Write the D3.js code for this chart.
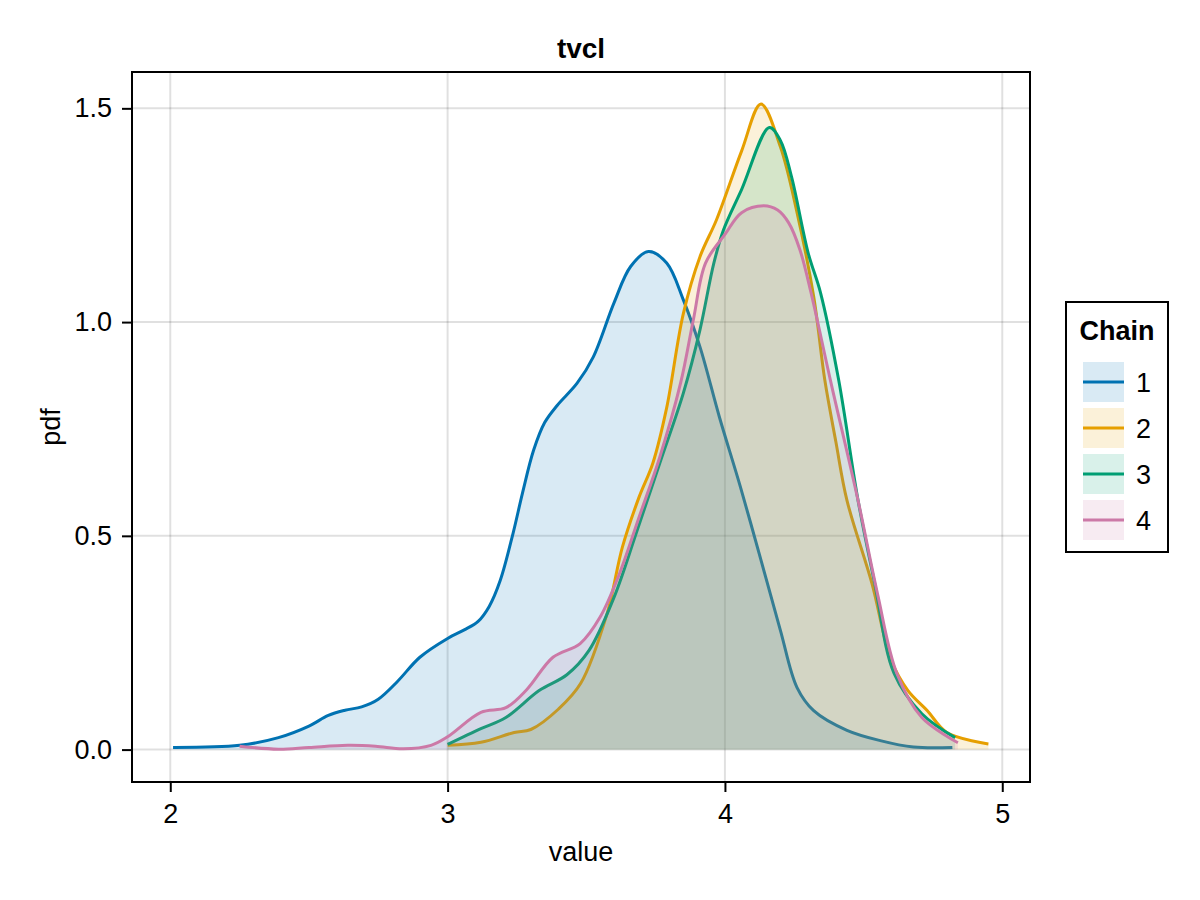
<!DOCTYPE html>
<html>
<head>
<meta charset="utf-8">
<script src="https://cdn.jsdelivr.net/npm/d3@7"></script>
<style>
  body { margin: 0; background: #fff; }
  text { font-family: "Liberation Sans", "Helvetica", Arial, sans-serif; fill: #000; }
</style>
</head>
<body>
<div id="viz"></div>
<script>
let w = 1200;
let h = 900;

// chain densities (value, pdf)
const chain1Value = [2.01, 2.25, 2.39, 2.50, 2.57, 2.63, 2.69, 2.75, 2.82, 2.90, 3.00, 3.06, 3.11, 3.15, 3.19, 3.236, 3.27, 3.31, 3.35, 3.395, 3.467, 3.525, 3.60, 3.66, 3.724, 3.79, 3.85, 3.91, 3.98, 4.056, 4.13, 4.20, 4.26, 4.32, 4.44, 4.56, 4.68, 4.82];
const chain1Pdf = [0.005, 0.010, 0.028, 0.055, 0.080, 0.092, 0.100, 0.118, 0.160, 0.216, 0.260, 0.280, 0.300, 0.335, 0.396, 0.506, 0.600, 0.700, 0.765, 0.805, 0.857, 0.918, 1.045, 1.130, 1.165, 1.138, 1.052, 0.942, 0.778, 0.614, 0.443, 0.279, 0.145, 0.091, 0.045, 0.021, 0.006, 0.005];

const chain2Value = [3.00, 3.12, 3.24, 3.30, 3.40, 3.48, 3.575, 3.63, 3.69, 3.74, 3.79, 3.85, 3.91, 3.97, 4.06, 4.13, 4.20, 4.26, 4.32, 4.36, 4.40, 4.44, 4.53, 4.60, 4.66, 4.73, 4.80, 4.95];
const chain2Pdf = [0.010, 0.017, 0.040, 0.047, 0.095, 0.155, 0.318, 0.473, 0.590, 0.670, 0.800, 1.020, 1.153, 1.240, 1.400, 1.510, 1.410, 1.256, 1.060, 0.865, 0.720, 0.583, 0.389, 0.208, 0.138, 0.091, 0.040, 0.013];

const chain3Value = [3.00, 3.12, 3.21, 3.33, 3.43, 3.51, 3.60, 3.68, 3.765, 3.85, 3.91, 3.96, 3.995, 4.06, 4.16, 4.20, 4.24, 4.30, 4.345, 4.41, 4.48, 4.54, 4.61, 4.71, 4.83];
const chain3Pdf = [0.012, 0.049, 0.075, 0.138, 0.175, 0.232, 0.356, 0.506, 0.670, 0.834, 0.982, 1.138, 1.216, 1.310, 1.455, 1.425, 1.340, 1.162, 1.068, 0.865, 0.583, 0.389, 0.178, 0.084, 0.028];

const chain4Value = [2.25, 2.39, 2.50, 2.64, 2.74, 2.84, 2.94, 3.00, 3.12, 3.21, 3.285, 3.38, 3.478, 3.55, 3.62, 3.69, 3.765, 3.84, 3.886, 3.93, 4.00, 4.06, 4.14, 4.19, 4.23, 4.27, 4.31, 4.38, 4.48, 4.55, 4.62, 4.71, 4.84];
const chain4Pdf = [0.008, 0.001, 0.005, 0.010, 0.008, 0.002, 0.010, 0.030, 0.087, 0.098, 0.140, 0.216, 0.248, 0.310, 0.412, 0.543, 0.684, 0.857, 1.005, 1.138, 1.205, 1.256, 1.272, 1.262, 1.232, 1.170, 1.070, 0.865, 0.583, 0.365, 0.178, 0.075, 0.016];

const chainNames = ["1", "2", "3", "4"];
const chainColors = ["#0072B2", "#E69F00", "#009E73", "#CC79A7"];
const xTicks = [2, 3, 4, 5];
const yTicks = [0.0, 0.5, 1.0, 1.5];

const chains = [
    [chain1Value, chain1Pdf],
    [chain2Value, chain2Pdf],
    [chain3Value, chain3Pdf],
    [chain4Value, chain4Pdf]
].map(([xs, ys], i) => ({
    name: chainNames[i],
    color: chainColors[i],
    points: xs.map((v, j) => ({ value: v, pdf: ys[j] }))
}));

let plotLeft = 132, plotRight = 1030, plotTop = 72, plotBottom = 782;

let viz = d3.select("#viz")
    .append("svg")
    .attr("width", w)
    .attr("height", h)
    .attr("viewBox", "0 0 " + w + " " + h);

const xScale = d3.scaleLinear()
    .domain([1.862, 5.1])
    .range([plotLeft, plotRight]);

const yScale = d3.scaleLinear()
    .domain([-0.0758, 1.585])
    .range([plotBottom, plotTop]);

// grid
viz.append("g")
    .selectAll("line")
    .data(xTicks)
    .enter()
    .append("line")
    .attr("x1", d => xScale(d)).attr("x2", d => xScale(d))
    .attr("y1", plotTop).attr("y2", plotBottom)
    .attr("stroke", "rgba(0,0,0,0.12)")
    .attr("stroke-width", 2);

viz.append("g")
    .selectAll("line")
    .data(yTicks)
    .enter()
    .append("line")
    .attr("x1", plotLeft).attr("x2", plotRight)
    .attr("y1", d => yScale(d)).attr("y2", d => yScale(d))
    .attr("stroke", "rgba(0,0,0,0.12)")
    .attr("stroke-width", 2);

// densities
const curve = d3.curveCatmullRom.alpha(0.5);

const area = d3.area()
    .x(d => xScale(d.value))
    .y0(yScale(0))
    .y1(d => yScale(d.pdf))
    .curve(curve);

const line = d3.line()
    .x(d => xScale(d.value))
    .y(d => yScale(d.pdf))
    .curve(curve);

chains.forEach(c => {
    viz.append("path")
        .datum(c.points)
        .attr("d", area)
        .attr("fill", c.color)
        .attr("fill-opacity", 0.15);
    viz.append("path")
        .datum(c.points)
        .attr("d", line)
        .attr("fill", "none")
        .attr("stroke", c.color)
        .attr("stroke-width", 3);
});

// frame
viz.append("rect")
    .attr("x", plotLeft).attr("y", plotTop)
    .attr("width", plotRight - plotLeft).attr("height", plotBottom - plotTop)
    .attr("fill", "none")
    .attr("stroke", "#000")
    .attr("stroke-width", 2);

// axes
const xAxis = viz.append("g")
    .attr("transform", `translate(0,${plotBottom})`)
    .call(d3.axisBottom(xScale).tickValues(xTicks).tickFormat(d3.format("d")).tickSize(10).tickPadding(12));

const yAxis = viz.append("g")
    .attr("transform", `translate(${plotLeft},0)`)
    .call(d3.axisLeft(yScale).tickValues(yTicks).tickFormat(d3.format(".1f")).tickSize(10).tickPadding(10));

[xAxis, yAxis].forEach(g => {
    g.select(".domain").remove();
    g.selectAll(".tick line").attr("stroke", "#000").attr("stroke-width", 2);
    g.selectAll(".tick text")
        .attr("font-size", 27)
        .style("font-family", "'Liberation Sans', Arial, sans-serif")
        .attr("fill", "#000");
});

// title and labels
viz.append("text")
    .attr("x", (plotLeft + plotRight) / 2)
    .attr("y", 58)
    .attr("text-anchor", "middle")
    .attr("font-size", 28)
    .attr("font-weight", "bold")
    .text("tvcl");

viz.append("text")
    .attr("x", (plotLeft + plotRight) / 2)
    .attr("y", 861)
    .attr("text-anchor", "middle")
    .attr("font-size", 27)
    .text("value");

viz.append("text")
    .attr("transform", `translate(60,${(plotTop + plotBottom) / 2}) rotate(-90)`)
    .attr("text-anchor", "middle")
    .attr("font-size", 27)
    .text("pdf");

// legend
const legend = viz.append("g");

legend.append("rect")
    .attr("x", 1066).attr("y", 302)
    .attr("width", 102).attr("height", 250)
    .attr("fill", "#fff")
    .attr("stroke", "#000")
    .attr("stroke-width", 2);

legend.append("text")
    .attr("x", 1117)
    .attr("y", 340)
    .attr("text-anchor", "middle")
    .attr("font-size", 27)
    .attr("font-weight", "bold")
    .text("Chain");

const items = legend.selectAll(".item")
    .data(chains)
    .enter()
    .append("g")
    .attr("class", "item")
    .attr("transform", (d, i) => `translate(0,${382 + i * 46})`);

items.append("rect")
    .attr("x", 1083).attr("y", -20)
    .attr("width", 41).attr("height", 40)
    .attr("fill", d => d.color)
    .attr("fill-opacity", 0.15);

items.append("line")
    .attr("x1", 1083).attr("x2", 1124)
    .attr("y1", 0).attr("y2", 0)
    .attr("stroke", d => d.color)
    .attr("stroke-width", 3);

items.append("text")
    .attr("x", 1136)
    .attr("y", 10)
    .attr("font-size", 27)
    .text(d => d.name);
</script>
</body>
</html>
